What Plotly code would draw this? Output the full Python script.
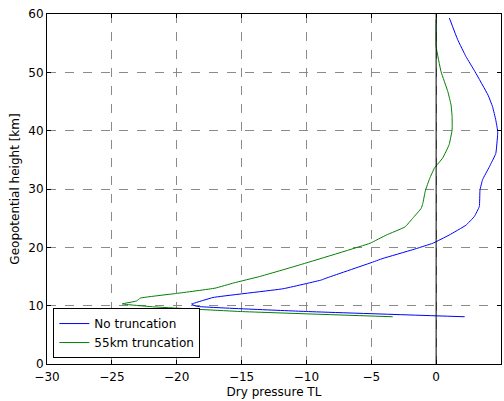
import plotly.graph_objects as go

# Blue: No truncation
blue_x = [1.02, 1.66, 2.3, 3.0, 4.0, 4.35, 4.6, 4.74, 4.74, 4.6, 4.1, 3.58, 3.38, 3.33, 2.95, 2.3, 1.0,
          -0.26, -1.8, -4.1, -5.1, -8.5, -8.85, -11.8, -17.2, -18.7, -18.85, -18.5, -10.0, 2.2]
blue_y = [59.3, 55.6, 52.7, 50.1, 46.1, 44.1, 41.8, 40.0, 39.3, 36.1, 33.8, 31.6, 29.8, 27.0, 25.3, 23.8, 22.1,
          20.7, 19.6, 18.1, 17.3, 14.7, 14.4, 12.9, 11.4, 10.4, 10.3, 9.9, 9.0, 8.1]

# Green: 55km truncation
green_x = [0.0, 0.0, 0.38, 0.9, 1.15, 1.23, 1.23, 1.0, 0.5, -0.13, -0.5, -0.82, -1.03, -1.15, -1.8, -2.4,
           -3.85, -5.1, -10.5, -13.6, -15.6, -17.05, -20.0, -22.8, -23.1, -24.2, -21.8, -15.1, -3.35]
green_y = [59.1, 54.4, 50.1, 46.7, 44.4, 42.4, 40.1, 37.6, 35.3, 33.6, 31.8, 29.8, 27.5, 26.7, 25.0, 23.5,
           22.1, 20.7, 17.0, 15.0, 13.9, 13.0, 12.1, 11.3, 10.8, 10.3, 9.8, 9.0, 8.1]

x_ticks = [-30, -25, -20, -15, -10, -5, 0, 5]
y_ticks = [0, 10, 20, 30, 40, 50, 60]

fig = go.Figure()
fig.add_trace(go.Scatter(x=blue_x, y=blue_y, mode="lines", name="No truncation",
                         line=dict(color="#0000ff", width=1, shape="spline", smoothing=0.3)))
fig.add_trace(go.Scatter(x=green_x, y=green_y, mode="lines", name="55km truncation",
                         line=dict(color="#008000", width=1, shape="spline", smoothing=0.3)))
fig.add_vline(x=0, line_color="black", line_width=1)

axis_common = dict(
    showline=True, linecolor="black", linewidth=1, mirror="ticks",
    ticks="inside", ticklen=4, tickwidth=1, tickcolor="black",
    showgrid=True, gridcolor="#8a8a8a", griddash="dash", gridwidth=1,
    zeroline=False, tickfont=dict(size=12, color="black"),
)

fig.update_xaxes(range=[-30, 5], tickvals=x_ticks, ticklabelstandoff=2,
                 title=dict(text="Dry pressure TL", font=dict(size=12), standoff=4),
                 **axis_common)
fig.update_yaxes(range=[0, 60], tickvals=y_ticks,
                 title=dict(text="Geopotential height [km]", font=dict(size=12), standoff=6),
                 **axis_common)

fig.update_layout(
    width=504, height=401,
    margin=dict(l=47, r=3, t=14, b=37),
    paper_bgcolor="white", plot_bgcolor="white",
    font=dict(family="DejaVu Sans", size=12, color="black"),
    legend=dict(x=0.014, y=0.017, xanchor="left", yanchor="bottom",
                bordercolor="black", borderwidth=1, bgcolor="white",
                font=dict(size=12), tracegroupgap=0),
    showlegend=True,
)

fig.write_html("out.html")
